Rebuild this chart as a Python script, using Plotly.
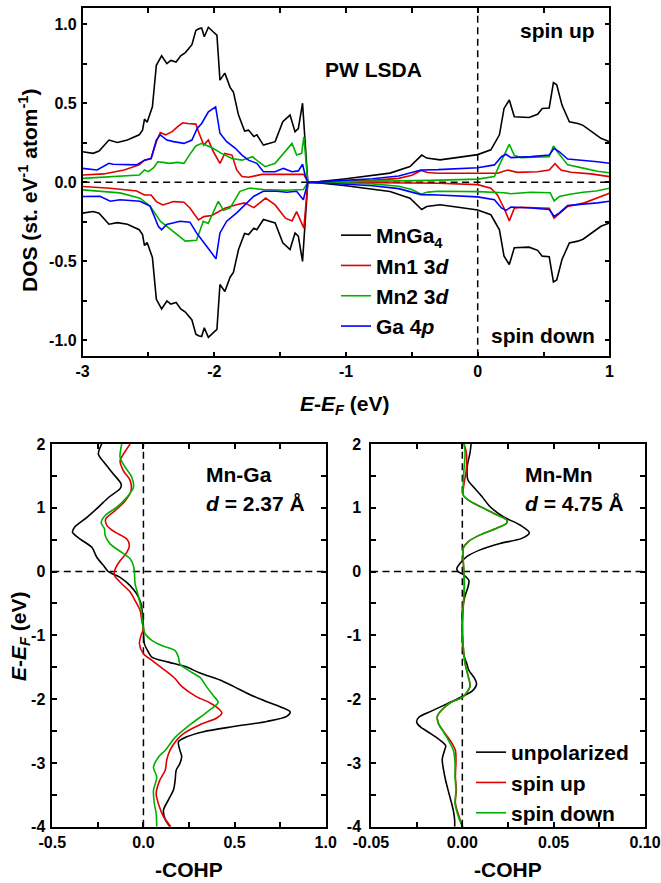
import plotly.graph_objects as go

# ---------------- DATA: DOS (top panel) ----------------
e_mnga4 = [-3.0, -2.92, -2.875, -2.80, -2.736, -2.66, -2.57, -2.545, -2.53, -2.51,
           -2.47, -2.44, -2.40, -2.36, -2.33, -2.29, -2.255, -2.22, -2.17, -2.14,
           -2.12, -2.096, -2.076, -2.045, -2.007, -1.98, -1.957, -1.92, -1.88, -1.855,
           -1.816, -1.77, -1.74, -1.70, -1.677, -1.627, -1.538, -1.48, -1.425, -1.387,
           -1.362, -1.33, -1.29, -1.2, -1.0, -0.843, -0.666, -0.514, -0.45, -0.425,
           -0.387, -0.286, -0.134, 0.0, 0.1, 0.165, 0.2, 0.24, 0.278, 0.39,
           0.455, 0.49, 0.543, 0.575, 0.6, 0.64, 0.696, 0.76, 0.8, 0.87,
           0.936, 1.0]
dos_mnga4_up = [0.193, 0.183, 0.198, 0.267, 0.252, 0.267, 0.30, 0.33, 0.40, 0.38,
                0.477, 0.74, 0.80, 0.75, 0.77, 0.76, 0.80, 0.82, 0.87, 0.96,
                0.97, 0.975, 0.92, 0.98, 0.95, 0.93, 0.646, 0.69, 0.60, 0.57,
                0.425, 0.324, 0.33, 0.29, 0.30, 0.235, 0.257, 0.383, 0.425, 0.32,
                0.34, 0.50, 0.0, 0.004, 0.022, 0.037, 0.058, 0.10, 0.15, 0.172,
                0.153, 0.142, 0.159, 0.175, 0.205, 0.30, 0.467, 0.52, 0.414, 0.41,
                0.43, 0.467, 0.47, 0.63, 0.617, 0.488, 0.383, 0.372, 0.36, 0.32,
                0.278, 0.257]
dos_mnga4_dn = [-0.195, -0.185, -0.195, -0.265, -0.255, -0.265, -0.30, -0.33, -0.40, -0.38,
                -0.475, -0.74, -0.80, -0.75, -0.77, -0.76, -0.80, -0.82, -0.87, -0.96,
                -0.97, -0.975, -0.92, -0.98, -0.95, -0.93, -0.646, -0.69, -0.60, -0.57,
                -0.425, -0.324, -0.33, -0.29, -0.30, -0.235, -0.257, -0.383, -0.425, -0.32,
                -0.34, -0.50, 0.0, -0.004, -0.022, -0.037, -0.058, -0.10, -0.15, -0.172,
                -0.153, -0.142, -0.159, -0.175, -0.205, -0.30, -0.467, -0.52, -0.414, -0.41,
                -0.43, -0.467, -0.47, -0.63, -0.617, -0.488, -0.383, -0.372, -0.36, -0.32,
                -0.278, -0.257]

e_mn1_up = [-3.0, -2.84, -2.685, -2.57, -2.53, -2.48, -2.44, -2.41, -2.37, -2.32,
            -2.28, -2.24, -2.20, -2.14, -2.12, -2.08, -2.045, -2.007, -1.957, -1.92,
            -1.866, -1.83, -1.79, -1.74, -1.64, -1.51, -1.387, -1.32, -1.29, -1.0,
            -0.8, -0.6, -0.5, -0.43, -0.38, -0.3, 0.0, 0.15, 0.227, 0.30,
            0.455, 0.543, 0.587, 0.632, 0.708, 0.86, 1.0]
dos_mn1_up = [0.046, 0.053, 0.078, 0.11, 0.14, 0.15, 0.257, 0.315, 0.30, 0.32,
              0.35, 0.376, 0.372, 0.368, 0.32, 0.235, 0.267, 0.193, 0.12, 0.183,
              0.172, 0.078, 0.036, 0.032, 0.05, 0.05, 0.046, 0.05, 0.0, 0.005,
              0.012, 0.025, 0.045, 0.075, 0.062, 0.057, 0.055, 0.057, 0.078, 0.063,
              0.067, 0.078, 0.118, 0.078, 0.063, 0.053, 0.036]

e_mn1_dn = [-3.0, -2.79, -2.59, -2.53, -2.48, -2.44, -2.39, -2.31, -2.23, -2.185,
            -2.12, -2.08, -2.02, -1.92, -1.84, -1.77, -1.70, -1.61, -1.538, -1.46,
            -1.41, -1.375, -1.32, -1.29, -1.0, -0.6, -0.3, 0.0, 0.1, 0.15,
            0.2, 0.24, 0.278, 0.33, 0.543, 0.58, 0.62, 0.683, 0.81, 0.91,
            1.0]
dos_mn1_dn = [-0.027, -0.038, -0.055, -0.08, -0.08, -0.122, -0.143, -0.122, -0.126, -0.162,
              -0.238, -0.217, -0.21, -0.164, -0.143, -0.13, -0.16, -0.10, -0.143, -0.227,
              -0.244, -0.185, -0.29, 0.0, -0.001, -0.003, -0.006, -0.015, -0.038, -0.08,
              -0.164, -0.244, -0.164, -0.158, -0.164, -0.227, -0.2, -0.153, -0.13, -0.1,
              -0.07]

e_mn2_up = [-3.0, -2.79, -2.57, -2.53, -2.50, -2.46, -2.43, -2.39, -2.34, -2.28,
            -2.23, -2.19, -2.14, -2.096, -2.02, -1.945, -1.866, -1.79, -1.71, -1.664,
            -1.614, -1.538, -1.46, -1.41, -1.375, -1.337, -1.32, -1.29, -1.0, -0.6,
            -0.36, 0.0, 0.127, 0.165, 0.2, 0.24, 0.278, 0.33, 0.543, 0.575,
            0.605, 0.683, 0.81, 0.91, 1.0]
dos_mn2_up = [0.025, 0.036, 0.046, 0.078, 0.067, 0.093, 0.13, 0.126, 0.12, 0.126,
              0.12, 0.172, 0.23, 0.246, 0.22, 0.183, 0.15, 0.14, 0.162, 0.13,
              0.099, 0.12, 0.193, 0.246, 0.172, 0.183, 0.288, 0.0, 0.004, 0.008,
              0.012, 0.02, 0.036, 0.11, 0.17, 0.24, 0.17, 0.156, 0.162, 0.23,
              0.193, 0.11, 0.088, 0.07, 0.06]

e_mn2_dn = [-3.0, -2.84, -2.716, -2.564, -2.488, -2.41, -2.362, -2.286, -2.22, -2.135,
            -2.084, -2.046, -2.008, -1.97, -1.93, -1.88, -1.805, -1.73, -1.628, -1.45,
            -1.324, -1.29, -1.0, -0.8, -0.6, -0.5, -0.43, -0.38, -0.3, 0.0,
            0.2, 0.25, 0.4, 0.55, 0.58, 0.62, 0.7, 0.8, 0.9, 1.0]
dos_mn2_dn = [-0.048, -0.059, -0.067, -0.10, -0.15, -0.246, -0.278, -0.33, -0.372, -0.366,
              -0.246, -0.26, -0.193, -0.12, -0.177, -0.162, -0.057, -0.036, -0.046, -0.05,
              -0.046, 0.0, -0.004, -0.01, -0.025, -0.045, -0.075, -0.062, -0.057, -0.059,
              -0.066, -0.072, -0.063, -0.066, -0.118, -0.09, -0.076, -0.063, -0.055, -0.038]

e_ga_up = [-3.0, -2.89, -2.80, -2.77, -2.59, -2.53, -2.48, -2.44, -2.41, -2.36,
           -2.31, -2.23, -2.17, -2.13, -2.096, -2.045, -1.99, -1.957, -1.906, -1.84,
           -1.79, -1.74, -1.677, -1.627, -1.538, -1.475, -1.41, -1.362, -1.33, -1.31,
           -1.29, -1.0, -0.8, -0.6, -0.5, -0.43, -0.3, 0.0, 0.127, 0.18,
           0.215, 0.253, 0.405, 0.543, 0.58, 0.62, 0.683, 0.81, 0.91, 1.0]
dos_ga_up = [0.088, 0.078, 0.12, 0.114, 0.11, 0.14, 0.15, 0.267, 0.30, 0.267,
             0.257, 0.246, 0.267, 0.34, 0.372, 0.446, 0.477, 0.31, 0.257, 0.215,
             0.172, 0.14, 0.12, 0.067, 0.067, 0.088, 0.067, 0.072, 0.114, 0.046,
             0.0, 0.012, 0.022, 0.04, 0.06, 0.078, 0.08, 0.092, 0.11, 0.162,
             0.177, 0.156, 0.162, 0.172, 0.215, 0.193, 0.147, 0.14, 0.13, 0.12]

e_ga_dn = [-3.0, -2.868, -2.79, -2.716, -2.564, -2.488, -2.425, -2.40, -2.362, -2.26,
           -2.185, -2.135, -2.058, -1.987, -1.957, -1.906, -1.83, -1.756, -1.70, -1.628,
           -1.526, -1.45, -1.375, -1.324, -1.29, -1.0, -0.8, -0.6, -0.5, -0.43,
           -0.3, 0.0, 0.127, 0.18, 0.215, 0.253, 0.405, 0.543, 0.58, 0.62,
           0.683, 0.81, 0.91, 1.0]
dos_ga_dn = [-0.09, -0.088, -0.12, -0.11, -0.12, -0.15, -0.278, -0.30, -0.267, -0.246,
             -0.252, -0.32, -0.404, -0.484, -0.32, -0.246, -0.193, -0.13, -0.088, -0.057,
             -0.057, -0.063, -0.057, -0.11, 0.0, -0.012, -0.022, -0.04, -0.06, -0.078,
             -0.08, -0.092, -0.11, -0.162, -0.177, -0.156, -0.162, -0.172, -0.215, -0.193,
             -0.147, -0.14, -0.13, -0.12]

# ---------------- DATA: COHP Mn-Ga (bottom left) ----------------
e_mnga_unpol = [2.0, 1.84, 1.69, 1.53, 1.37, 1.30, 1.165, 1.01, 0.85, 0.695,
                0.617, 0.51, 0.38, 0.225, 0.094, 0.0, -0.09, -0.22, -0.35, -0.507,
                -0.716, -0.925, -1.13, -1.26, -1.34, -1.42, -1.49, -1.59, -1.70, -1.80,
                -1.93, -2.04, -2.12, -2.20, -2.27, -2.35, -2.43, -2.51, -2.59, -2.67,
                -2.80, -2.90, -3.01, -3.11, -3.27, -3.42, -3.58, -3.74, -3.89, -4.0]
cohp_mnga_unpol = [-0.229, -0.247, -0.21, -0.165, -0.122, -0.128, -0.19, -0.247, -0.31, -0.378,
                   -0.389, -0.347, -0.283, -0.256, -0.219, -0.192, -0.128, -0.073, -0.037, -0.013,
                   -0.004, 0.0, 0.005, 0.027, 0.046, 0.137, 0.23, 0.31, 0.42, 0.494,
                   0.585, 0.677, 0.75, 0.805, 0.786, 0.677, 0.494, 0.33, 0.238, 0.192,
                   0.20, 0.21, 0.20, 0.18, 0.174, 0.165, 0.137, 0.11, 0.12, 0.146]

e_mnga_up = [2.0, 1.84, 1.74, 1.58, 1.43, 1.27, 1.11, 0.956, 0.825, 0.72,
             0.617, 0.51, 0.41, 0.30, 0.17, 0.04, -0.063, -0.19, -0.32, -0.455,
             -0.61, -0.77, -0.9, -1.0, -1.13, -1.29, -1.39, -1.55, -1.68, -1.80,
             -1.96, -2.06, -2.17, -2.22, -2.30, -2.40, -2.54, -2.64, -2.80, -2.95,
             -3.11, -3.27, -3.48, -3.69, -3.84, -4.0]
cohp_mnga_up = [-0.073, -0.11, -0.128, -0.11, -0.073, -0.068, -0.10, -0.155, -0.207, -0.20,
                -0.155, -0.091, -0.077, -0.091, -0.128, -0.155, -0.159, -0.119, -0.073, -0.046,
                -0.018, -0.009, 0.0, -0.013, -0.022, 0.0, 0.046, 0.119, 0.174, 0.21,
                0.29, 0.366, 0.42, 0.43, 0.40, 0.31, 0.22, 0.183, 0.146, 0.128,
                0.12, 0.09, 0.07, 0.088, 0.11, 0.15]

e_mnga_dn = [2.0, 1.79, 1.635, 1.48, 1.32, 1.165, 1.01, 0.88, 0.77, 0.67,
             0.564, 0.434, 0.30, 0.2, 0.094, -0.037, -0.19, -0.35, -0.507, -0.66,
             -0.82, -0.975, -1.08, -1.16, -1.24, -1.34, -1.45, -1.55, -1.66, -1.80,
             -1.95, -2.05, -2.2, -2.4, -2.6, -2.8, -2.91, -3.07, -3.22, -3.43,
             -3.64, -3.8, -4.0]
cohp_mnga_dn = [-0.119, -0.128, -0.10, -0.064, -0.055, -0.091, -0.146, -0.21, -0.232, -0.214,
                -0.21, -0.183, -0.119, -0.073, -0.055, -0.049, -0.046, -0.031, -0.018, -0.009,
                -0.005, 0.009, 0.046, 0.10, 0.174, 0.192, 0.20, 0.247, 0.31, 0.345,
                0.385, 0.41, 0.35, 0.256, 0.174, 0.12, 0.082, 0.055, 0.073, 0.055,
                0.06, 0.07, 0.073]

# ---------------- DATA: COHP Mn-Mn (bottom right) ----------------
e_mnmn_unpol = [2.0, 1.86, 1.65, 1.44, 1.33, 1.18, 1.02, 0.86, 0.73, 0.61,
                0.52, 0.44, 0.34, 0.235, 0.13, 0.05, 0.0, -0.05, -0.14, -0.25,
                -0.4, -0.61, -0.81, -1.02, -1.28, -1.44, -1.55, -1.66, -1.76, -1.87,
                -1.97, -2.07, -2.18, -2.28, -2.36, -2.44, -2.54, -2.65, -2.73, -2.8,
                -2.94, -3.09, -3.28, -3.48, -3.75, -3.9, -4.0]
cohp_mnmn_unpol = [0.0048, 0.0042, 0.0027, 0.003, 0.006, 0.0106, 0.0151, 0.0224, 0.0316, 0.0367,
                   0.0325, 0.0206, 0.0097, 0.0024, -0.0012, -0.003, -0.0024, 0.0007, 0.0036, 0.003,
                   0.0013, 0.0, 0.0, 0.0, 0.0005, 0.0024, 0.0036, 0.0064, 0.0078, 0.0055,
                   -0.0009, -0.0082, -0.0164, -0.0237, -0.025, -0.0228, -0.0173, -0.0119, -0.0091, -0.0097,
                   -0.011, -0.0104, -0.0091, -0.0073, -0.0049, -0.0042, -0.0042]

e_mnmn_spin = [2.0, 1.86, 1.6, 1.39, 1.2, 1.12, 1.02, 0.915, 0.81, 0.76,
               0.68, 0.575, 0.47, 0.366, 0.18, -0.03, -0.24, -0.55, -0.86, -1.18,
               -1.44, -1.65, -1.80, -1.96, -2.06, -2.17, -2.27, -2.38, -2.51, -2.64,
               -2.80, -3.0, -3.21, -3.43, -3.63, -3.84, -4.0]
cohp_mnmn_up = [0.001, 0.0022, 0.0022, 0.001, 0.0005, 0.0033, 0.0097, 0.017, 0.0243, 0.0243,
                0.0188, 0.0097, 0.0033, 0.0005, 0.0005, 0.0009, 0.0011, 0.0005, 0.0, 0.0005,
                0.0015, 0.0033, 0.0042, 0.0005, -0.0068, -0.0113, -0.0137, -0.0131, -0.0102, -0.0068,
                -0.0038, -0.0035, -0.0038, -0.0033, -0.0038, -0.0018, 0.0003]
cohp_mnmn_dn = [0.0009, 0.0015, 0.0009, 0.0005, 0.0005, 0.0033, 0.0097, 0.017, 0.0243, 0.0243,
                0.0188, 0.0097, 0.0033, 0.0005, 0.0005, 0.0009, 0.0011, 0.0005, 0.0, 0.0005,
                0.0015, 0.0033, 0.0042, 0.0005, -0.0068, -0.0113, -0.0137, -0.0131, -0.0104, -0.0077,
                -0.0049, -0.004, -0.004, -0.0035, -0.004, -0.0022, 0.0]

# ---------------- TICKS ----------------
top_x_ticks = [-3, -2, -1, 0, 1]
top_x_labels = ["-3", "-2", "-1", "0", "1"]
top_y_ticks = [-1.0, -0.5, 0.0, 0.5, 1.0]
top_y_labels = ["-1.0", "-0.5", "0.0", "0.5", "1.0"]
bl_x_ticks = [-0.5, 0.0, 0.5, 1.0]
bl_x_labels = ["-0.5", "0.0", "0.5", "1.0"]
br_x_ticks = [-0.05, 0.0, 0.05, 0.10]
br_x_labels = ["-0.05", "0.00", "0.05", "0.10"]
bot_y_ticks = [-4, -3, -2, -1, 0, 1, 2]
bot_y_labels = ["-4", "-3", "-2", "-1", "0", "1", "2"]

# ---------------- STYLE ----------------
W, H = 661, 883
FONT = "Liberation Sans, Arial, sans-serif"
BLACK, RED, GREEN, BLUE = "#000000", "#e00000", "#00b000", "#0000ff"
LW = 1.6


def px(xp):
    return xp / W


def py(yp):
    return 1 - yp / H


fig = go.Figure()


def add_line(x, y, color, xa, ya, name=None, legend=None, spline=False):
    fig.add_trace(go.Scatter(
        x=x, y=y, mode="lines", xaxis=xa, yaxis=ya,
        line=dict(color=color, width=LW, shape="spline" if spline else "linear",
                  smoothing=0.8 if spline else None),
        name=name, showlegend=name is not None,
        legend=legend if legend else "legend",
        hoverinfo="skip"))


# top panel
add_line(e_mnga4, dos_mnga4_up, BLACK, "x", "y", "MnGa<sub>4</sub>", "legend")
add_line(e_mnga4, dos_mnga4_dn, BLACK, "x", "y")
add_line(e_mn1_up, dos_mn1_up, RED, "x", "y", "Mn1 3<i>d</i>", "legend")
add_line(e_mn1_dn, dos_mn1_dn, RED, "x", "y")
add_line(e_mn2_up, dos_mn2_up, GREEN, "x", "y", "Mn2 3<i>d</i>", "legend")
add_line(e_mn2_dn, dos_mn2_dn, GREEN, "x", "y")
add_line(e_ga_up, dos_ga_up, BLUE, "x", "y", "Ga 4<i>p</i>", "legend")
add_line(e_ga_dn, dos_ga_dn, BLUE, "x", "y")

# bottom left (Mn-Ga)
add_line(cohp_mnga_unpol, e_mnga_unpol, BLACK, "x2", "y2", spline=True)
add_line(cohp_mnga_up, e_mnga_up, RED, "x2", "y2", spline=True)
add_line(cohp_mnga_dn, e_mnga_dn, GREEN, "x2", "y2", spline=True)

# bottom right (Mn-Mn)
add_line(cohp_mnmn_unpol, e_mnmn_unpol, BLACK, "x3", "y3", "unpolarized", "legend2", spline=True)
add_line(cohp_mnmn_up, e_mnmn_spin, RED, "x3", "y3", "spin up", "legend2", spline=True)
add_line(cohp_mnmn_dn, e_mnmn_spin, GREEN, "x3", "y3", "spin down", "legend2", spline=True)

tickfont = dict(family=FONT, size=16, color="black", weight="bold")


def axis(domain, anchor, rng, tickvals, ticktext, minor_dtick, standoff):
    return dict(domain=domain, anchor=anchor, range=rng, automargin=False,
                tickmode="array", tickvals=tickvals, ticktext=ticktext,
                showline=True, linecolor="black", linewidth=1.5, mirror="ticks",
                ticks="inside", ticklen=5, tickwidth=1.5, tickcolor="black",
                showgrid=False, zeroline=False, tickfont=tickfont,
                ticklabelstandoff=standoff,
                minor=dict(tickmode="linear", tick0=0, dtick=minor_dtick,
                           ticks="inside", ticklen=5, tickwidth=1.5,
                           tickcolor="black", showgrid=False))


top_xd = [px(82.6), px(609.4)]
top_yd = [py(356.3), py(8.3)]
bl_xd = [px(52.3), px(325.7)]
br_xd = [px(371.0), px(645.0)]
bot_yd = [py(826.7), py(444.0)]

legend_font = dict(family=FONT, size=21, color="black", weight="bold")

fig.update_layout(
    width=W, height=H, margin=dict(l=0, r=0, t=0, b=0, autoexpand=False),
    paper_bgcolor="white", plot_bgcolor="white",
    font=dict(family=FONT, color="black", weight="bold"),
    xaxis=axis(top_xd, "y", [-3, 1], top_x_ticks, top_x_labels, 0.5, 0),
    yaxis=axis(top_yd, "x", [-1.1, 1.1], top_y_ticks, top_y_labels, 0.25, 1),
    xaxis2=axis(bl_xd, "y2", [-0.5, 1.0], bl_x_ticks, bl_x_labels, 0.25, 0),
    yaxis2=axis(bot_yd, "x2", [-4, 2], bot_y_ticks, bot_y_labels, 0.5, 2),
    xaxis3=axis(br_xd, "y3", [-0.05, 0.10], br_x_ticks, br_x_labels, 0.025, 0),
    yaxis3=axis(bot_yd, "x3", [-4, 2], bot_y_ticks, bot_y_labels, 0.5, 5),
    legend=dict(x=px(336), y=py(215), xanchor="left", yanchor="top",
                bgcolor="rgba(0,0,0,0)", borderwidth=0, tracegroupgap=0,
                font=legend_font),
    legend2=dict(x=px(471), y=py(732), xanchor="left", yanchor="top",
                 bgcolor="rgba(0,0,0,0)", borderwidth=0, tracegroupgap=0,
                 font=legend_font),
    showlegend=True,
)

# dashed reference lines
dash = "7px,4.5px"
for xa, ya in [("x", "y"), ("x2", "y2"), ("x3", "y3")]:
    fig.add_shape(type="line", xref=xa, yref=f"{ya} domain", x0=0, x1=0, y0=0, y1=1,
                  line=dict(color="black", width=1.5, dash=dash), layer="below")
    fig.add_shape(type="line", xref=f"{xa} domain", yref=ya, x0=0, x1=1, y0=0, y1=0,
                  line=dict(color="black", width=1.5, dash=dash), layer="below")

big = dict(family=FONT, size=21, color="black", weight="bold")


def note(text, x, y, xanchor="center", angle=0):
    fig.add_annotation(text=text, xref="paper", yref="paper", x=px(x), y=py(y),
                       xanchor=xanchor, yanchor="middle", showarrow=False,
                       textangle=angle, font=big, borderpad=0)


# panel texts
note("PW LSDA", 373.5, 70)
note("spin up", 596, 31, "right")
note("spin down", 596, 335, "right")
note("Mn-Ga", 205, 475, "left")
note("<i>d</i> = 2.37 Å", 205, 503, "left")
note("Mn-Mn", 524, 475, "left")
note("<i>d</i> = 4.75 Å", 524, 503, "left")

# axis titles
note("DOS (st. eV<sup>-1</sup> atom<sup>-1</sup>)", 28, 190, angle=-90)
note("<i>E</i>-<i>E</i><sub><i>F</i></sub> (eV)", 345, 405)
note("<i>E</i>-<i>E</i><sub><i>F</i></sub> (eV)", 20, 636, angle=-90)
note("-COHP", 189, 869)
note("-COHP", 508, 869)

# remove the default page margin so the 661x883 figure fills the window exactly
fig.write_html("out.html",
               config={"displayModeBar": False},
               post_script="document.body.style.margin='0';document.body.style.overflow='hidden';")
